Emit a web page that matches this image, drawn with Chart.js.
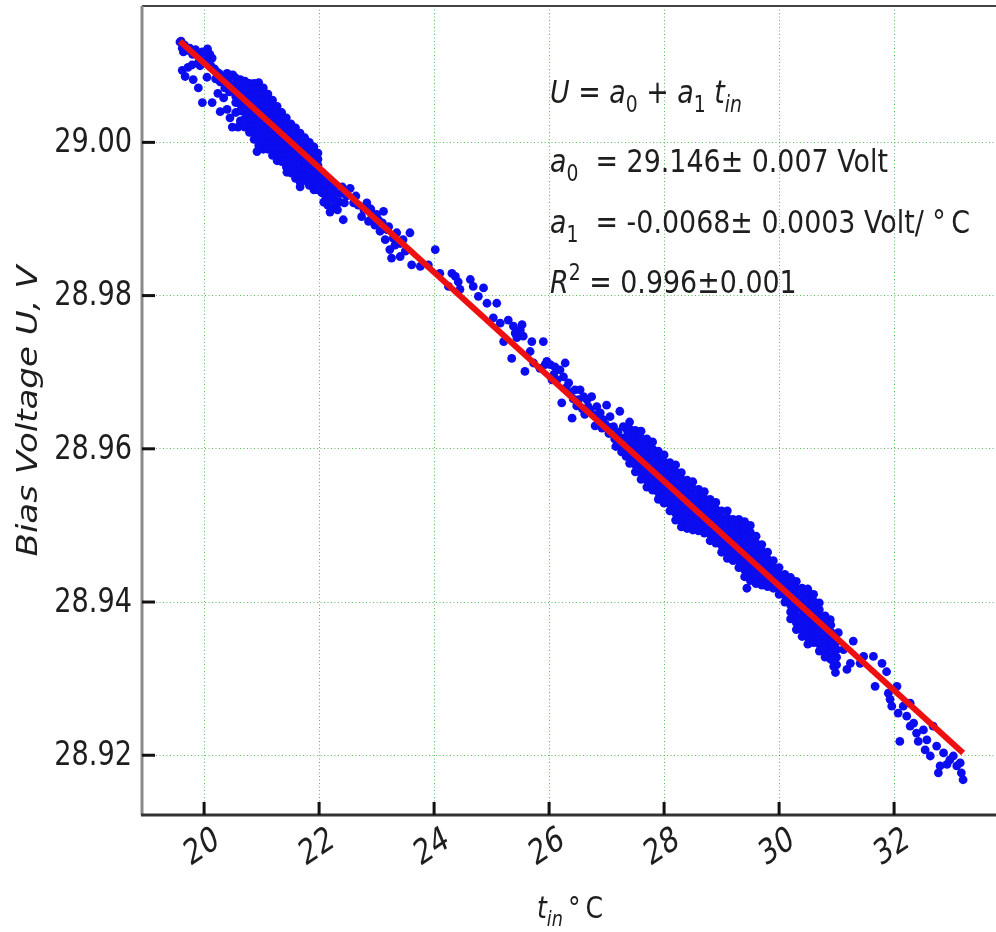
<!DOCTYPE html>
<html>
<head>
<meta charset="utf-8">
<title>Bias voltage vs temperature</title>
<script src="https://cdn.jsdelivr.net/npm/chart.js@4.4.0/dist/chart.umd.min.js"></script>
<style>
  html, body { margin: 0; padding: 0; background: #fff; overflow: hidden; }
  canvas { display: block; }
</style>
</head>
<body>
<canvas id="myChart" width="1000" height="932"></canvas>
<script>
// tick labels
const xTicks = [20, 22, 24, 26, 28, 30, 32];
const yTicks = [28.92, 28.94, 28.96, 28.98, 29.00];

// linear fit U = a0 + a1 t_in, drawn between the ends of the data
const fitT = [19.58, 33.20];
const fitU = [29.0132, 28.9203];

// isolated / edge measurements [t_in, U]
const loosePoints = [
  [19.58,29.0131],[19.60,29.0132],[19.62,29.0123],[19.66,29.0127],[19.70,29.0120],[19.64,29.0118],
  [19.75,29.0123],[19.80,29.0115],[19.85,29.0121],[19.92,29.0114],[19.97,29.0118],[19.90,29.0104],
  [19.62,29.0094],[19.67,29.0086],[19.72,29.0098],[19.79,29.0101],[19.81,29.0082],[19.90,29.0071],
  [19.97,29.0052],[19.93,29.0100],
  [20.02,29.0118],[20.06,29.0122],[20.10,29.0115],[20.14,29.0110],[20.04,29.0108],[20.08,29.0104],
  [20.12,29.0100],[20.18,29.0096],[20.22,29.0092],[20.26,29.0090],[20.30,29.0086],[20.20,29.0083],
  [20.28,29.0079],[20.34,29.0082],[20.38,29.0078],[20.42,29.0080],[20.46,29.0074],[20.36,29.0071],
  [20.44,29.0066],[20.48,29.0070],[20.14,29.0052],[20.28,29.0040],[20.40,29.0043],[20.45,29.0032],
  [20.49,29.0020],[20.59,29.0020],[20.34,29.0058],[20.24,29.0064],[20.05,29.0085],[20.45,29.0086],
  [20.50,29.0088],[20.40,29.0090],
  [20.92,28.9988],[21.44,28.9961],[21.67,28.9942],
  [22.05,28.9961],[22.05,28.9952],[22.05,28.9943],[22.05,28.9934],[22.12,28.9954],[22.12,28.9945],
  [22.12,28.9936],[22.12,28.9927],[22.20,28.9946],[22.20,28.9937],[22.20,28.9927],[22.28,28.9944],
  [22.28,28.9934],[22.28,28.9924],[22.36,28.9933],[22.36,28.9922],[22.44,28.9933],[22.44,28.9921],
  [22.19,28.9909],[22.42,28.9899],[22.25,28.9915],[22.32,28.9912],[22.08,28.9922],[22.15,28.9918],
  [22.40,28.9942],[22.48,28.9930],
  [22.54,28.9940],[22.60,28.9921],[22.68,28.9918],[22.74,28.9903],[22.83,28.9921],[22.86,28.9897],
  [22.92,28.9903],[22.97,28.9892],[23.03,28.9899],[23.06,28.9884],[23.12,28.9910],[23.15,28.9873],
  [23.18,28.9886],[23.21,28.9890],[23.23,28.9860],[23.26,28.9849],[23.29,28.9875],[23.35,28.9882],
  [23.41,28.9851],[23.41,28.9868],[23.58,28.9882],[22.64,28.9930],[22.78,28.9912],[22.90,28.9913],
  [23.00,28.9906],[23.10,28.9895],[23.32,28.9866],[23.46,28.9873],[23.50,28.9858],
  [23.61,28.9840],[23.76,28.9838],[23.90,28.9840],[24.02,28.9860],[24.10,28.9829],[24.31,28.9829],
  [24.37,28.9825],[24.25,28.9812],[24.42,28.9818],[24.45,28.9808],[24.63,28.9821],[24.68,28.9812],
  [24.86,28.9810],[24.77,28.9799],[24.92,28.9790],[25.09,28.9790],[25.03,28.9771],[25.15,28.9764],
  [25.29,28.9768],[25.38,28.9760],[25.41,28.9751],[25.50,28.9755],[25.53,28.9762],[25.55,28.9747],
  [25.44,28.9745],[25.21,28.9740],[25.35,28.9718],[25.58,28.9701],[25.70,28.9740],[25.67,28.9727],
  [25.73,28.9712],[25.90,28.9740],[25.84,28.9705],[25.93,28.9710],[25.96,28.9714],[26.02,28.9710],
  [26.05,28.9690],[26.10,28.9707],[26.19,28.9703],[26.28,28.9712],[26.25,28.9694],[26.34,28.9686],
  [26.22,28.9660],[26.37,28.9673],[26.40,28.9640],[26.45,28.9677],[26.54,28.9677],[26.60,28.9668],
  [26.51,28.9664],[26.66,28.9664],[26.71,28.9651],[26.74,28.9668],[26.83,28.9655],[26.89,28.9647],
  [26.94,28.9638],[27.00,28.9657],[27.06,28.9642],[27.12,28.9629],[27.23,28.9649],[27.18,28.9612],
  [27.29,28.9629],[27.35,28.9616],
  [26.08,28.9697],[26.14,28.9690],[26.30,28.9680],[26.42,28.9665],[26.48,28.9656],[26.58,28.9652],
  [26.62,28.9645],[26.68,28.9655],[26.78,28.9644],[26.80,28.9630],[26.86,28.9637],[26.92,28.9627],
  [26.98,28.9632],[27.04,28.9620],[27.08,28.9628],[27.14,28.9613],[27.20,28.9622],[27.24,28.9605],
  [27.28,28.9614],[27.32,28.9600],[27.36,28.9624],[27.34,28.9590],[27.26,28.9596],[27.16,28.9603],
  [29.44,28.9418],
  [30.89,28.9377],[31.03,28.9360],[31.12,28.9338],[30.95,28.9316],[30.98,28.9308],[31.18,28.9312],
  [31.24,28.9320],[31.29,28.9349],[31.47,28.9329],[31.41,28.9320],[31.64,28.9329],[31.67,28.9290],
  [31.79,28.9320],[31.87,28.9309],[31.90,28.9281],[31.93,28.9273],[31.96,28.9264],[32.05,28.9290],
  [32.07,28.9255],[32.10,28.9218],[32.16,28.9264],[32.22,28.9251],[32.28,28.9268],[32.28,28.9238],
  [32.34,28.9242],[32.39,28.9229],[32.42,28.9218],[32.51,28.9233],[32.57,28.9220],[32.54,28.9207],
  [32.63,28.9199],[32.68,28.9238],[32.74,28.9212],[32.80,28.9186],[32.86,28.9203],[32.92,28.9188],
  [32.97,28.9194],[33.03,28.9199],[33.09,28.9186],[33.15,28.9190],[33.17,28.9177],[33.20,28.9168],
  [32.77,28.9177]
];

// densely sampled stretches: [t_in, [U, U, ...]]
const denseColumns = [
  [20.55,[29.0084,29.0076,29.0068,29.0060,29.0052,29.0039]],
  [20.63,[29.0082,29.0074,29.0066,29.0058,29.0050,29.0041,29.0028]],
  [20.71,[29.0080,29.0072,29.0064,29.0056,29.0048,29.0040,29.0031,29.0020]],
  [20.79,[29.0077,29.0069,29.0061,29.0053,29.0045,29.0037,29.0029,29.0021,29.0013]],
  [20.87,[29.0077,29.0069,29.0061,29.0053,29.0045,29.0037,29.0029,29.0021,29.0013,29.0004]],
  [20.95,[29.0078,29.0070,29.0062,29.0054,29.0046,29.0038,29.0030,29.0022,29.0014,29.0006,28.9996]],
  [21.03,[29.0071,29.0063,29.0055,29.0047,29.0039,29.0031,29.0023,29.0015,29.0007,28.9999,28.9991]],
  [21.11,[29.0063,29.0055,29.0047,29.0039,29.0031,29.0023,29.0015,29.0007,28.9999,28.9991]],
  [21.19,[29.0055,29.0047,29.0039,29.0031,29.0023,29.0015,29.0007,28.9999,28.9991,28.9983]],
  [21.27,[29.0047,29.0039,29.0031,29.0023,29.0015,29.0007,28.9999,28.9991,28.9983,28.9976]],
  [21.35,[29.0039,29.0031,29.0023,29.0015,29.0007,28.9999,28.9991,28.9983,28.9975]],
  [21.43,[29.0032,29.0024,29.0016,29.0008,29.0000,28.9992,28.9984,28.9976,28.9968]],
  [21.51,[29.0024,29.0016,29.0008,29.0000,28.9992,28.9984,28.9976,28.9968,28.9960]],
  [21.59,[29.0019,29.0011,29.0003,28.9995,28.9987,28.9979,28.9971,28.9963,28.9953]],
  [21.67,[29.0012,29.0004,28.9996,28.9988,28.9980,28.9972,28.9964,28.9956,28.9948]],
  [21.75,[29.0006,28.9998,28.9990,28.9982,28.9974,28.9966,28.9958,28.9950]],
  [21.83,[29.0000,28.9992,28.9984,28.9976,28.9968,28.9960,28.9952,28.9944]],
  [21.91,[28.9994,28.9986,28.9978,28.9970,28.9962,28.9954,28.9946,28.9938]],
  [21.98,[28.9986,28.9978,28.9970,28.9962,28.9954,28.9946,28.9938]],
  [27.40,[28.9635,28.9626,28.9617,28.9608,28.9599,28.9590,28.9581]],
  [27.50,[28.9624,28.9615,28.9606,28.9597,28.9588,28.9579,28.9570]],
  [27.60,[28.9623,28.9614,28.9605,28.9596,28.9587,28.9578,28.9569,28.9560]],
  [27.70,[28.9613,28.9604,28.9595,28.9586,28.9577,28.9568,28.9559,28.9550]],
  [27.80,[28.9609,28.9600,28.9591,28.9582,28.9573,28.9564,28.9555,28.9546]],
  [27.90,[28.9597,28.9588,28.9579,28.9570,28.9561,28.9552,28.9543,28.9534]],
  [28.00,[28.9592,28.9583,28.9574,28.9565,28.9556,28.9547,28.9538,28.9529]],
  [28.10,[28.9582,28.9573,28.9564,28.9555,28.9546,28.9537,28.9528,28.9519]],
  [28.20,[28.9579,28.9570,28.9561,28.9552,28.9543,28.9534,28.9525,28.9516,28.9507]],
  [28.30,[28.9569,28.9560,28.9551,28.9542,28.9533,28.9524,28.9515,28.9506,28.9498]],
  [28.40,[28.9559,28.9550,28.9541,28.9532,28.9523,28.9514,28.9505,28.9496]],
  [28.50,[28.9557,28.9548,28.9539,28.9530,28.9521,28.9512,28.9503,28.9494]],
  [28.60,[28.9547,28.9538,28.9529,28.9520,28.9511,28.9502,28.9493]],
  [28.70,[28.9544,28.9535,28.9526,28.9517,28.9508,28.9499,28.9490]],
  [28.80,[28.9534,28.9525,28.9516,28.9507,28.9498,28.9489,28.9480]],
  [28.90,[28.9530,28.9521,28.9512,28.9503,28.9494,28.9485,28.9477]],
  [29.00,[28.9519,28.9510,28.9501,28.9492,28.9483,28.9474,28.9465]],
  [29.10,[28.9519,28.9510,28.9501,28.9492,28.9483,28.9474,28.9465,28.9457]],
  [29.20,[28.9508,28.9499,28.9490,28.9481,28.9472,28.9463,28.9454]],
  [29.30,[28.9508,28.9499,28.9490,28.9481,28.9472,28.9463,28.9454,28.9445]],
  [29.40,[28.9505,28.9496,28.9487,28.9478,28.9469,28.9460,28.9451,28.9442,28.9433]],
  [29.50,[28.9500,28.9491,28.9482,28.9473,28.9464,28.9455,28.9446,28.9437,28.9428]],
  [29.60,[28.9486,28.9477,28.9468,28.9459,28.9450,28.9441,28.9432,28.9424]],
  [29.70,[28.9475,28.9466,28.9457,28.9448,28.9439,28.9430,28.9422]],
  [29.80,[28.9465,28.9456,28.9447,28.9438,28.9429,28.9420]],
  [29.90,[28.9454,28.9445,28.9436,28.9427,28.9418]],
  [30.00,[28.9445,28.9436,28.9427,28.9418,28.9410]],
  [30.10,[28.9436,28.9427,28.9418,28.9409,28.9400]],
  [30.20,[28.9432,28.9423,28.9414,28.9405,28.9396,28.9387,28.9378]],
  [30.30,[28.9427,28.9418,28.9409,28.9400,28.9391,28.9382,28.9373,28.9364]],
  [30.40,[28.9418,28.9409,28.9400,28.9391,28.9382,28.9373,28.9364,28.9355]],
  [30.50,[28.9417,28.9408,28.9399,28.9390,28.9381,28.9372,28.9363,28.9354,28.9345]],
  [30.60,[28.9410,28.9401,28.9392,28.9383,28.9374,28.9365,28.9356,28.9347]],
  [30.70,[28.9399,28.9390,28.9381,28.9372,28.9363,28.9354,28.9345,28.9336]],
  [30.80,[28.9382,28.9373,28.9364,28.9355,28.9346,28.9337,28.9328]],
  [30.90,[28.9370,28.9361,28.9352,28.9343,28.9334,28.9325]],
  [31.00,[28.9348,28.9338,28.9328,28.9318]]
];

const measured = loosePoints.map(p => ({ x: p[0], y: p[1] }));
denseColumns.forEach(c => c[1].forEach(u => measured.push({ x: c[0], y: u })));
const fitLine = fitT.map((t, i) => ({ x: t, y: fitU[i] }));

const SX = 0.84;  // the figure is a little narrow horizontally
const INK = '#1e1e1e';

function setRunFont(ctx, st, size) {
  const small = st.indexOf('sub') >= 0 || st.indexOf('sup') >= 0;
  const italic = st.charAt(0) === 'i';
  ctx.font = (italic ? 'italic ' : '') + (small ? size * 0.7 : size) + 'px "DejaVu Sans"';
}
function runsWidth(ctx, runs, size) {
  let w = 0;
  runs.forEach(r => { setRunFont(ctx, r[1], size); w += ctx.measureText(r[0]).width; });
  return w;
}
function drawRuns(ctx, x, y, runs, size, center) {
  ctx.save();
  ctx.translate(x, y);
  ctx.scale(SX, 1);
  ctx.fillStyle = INK;
  ctx.textBaseline = 'alphabetic';
  ctx.textAlign = 'left';
  let cx = center ? -runsWidth(ctx, runs, size) / 2 : 0;
  runs.forEach(r => {
    setRunFont(ctx, r[1], size);
    let dy = 0;
    if (r[1].indexOf('sub') >= 0) dy = size * 0.27;
    if (r[1].indexOf('sup') >= 0) dy = -size * 0.42;
    ctx.fillText(r[0], cx, dy);
    cx += ctx.measureText(r[0]).width;
  });
  ctx.restore();
}

const decorations = {
  id: 'decorations',
  afterDraw(chart) {
    const ctx = chart.ctx;
    const a = chart.chartArea;
    const xs = chart.scales.x, ys = chart.scales.y;

    // frame
    ctx.save();
    ctx.lineWidth = 2;
    ctx.strokeStyle = '#444';
    ctx.beginPath(); ctx.moveTo(a.left, a.top); ctx.lineTo(a.right, a.top); ctx.stroke();
    ctx.lineWidth = 3;
    ctx.strokeStyle = '#8a8a8a';
    ctx.beginPath(); ctx.moveTo(a.left, a.top); ctx.lineTo(a.left, a.bottom); ctx.stroke();
    ctx.strokeStyle = '#333';
    ctx.beginPath(); ctx.moveTo(a.left - 1, a.bottom); ctx.lineTo(a.right, a.bottom); ctx.stroke();

    // inward tick marks
    ctx.strokeStyle = '#111';
    ctx.lineWidth = 3;
    xTicks.forEach(v => {
      const px = xs.getPixelForValue(v);
      ctx.beginPath(); ctx.moveTo(px, a.bottom); ctx.lineTo(px, a.bottom - 13); ctx.stroke();
    });
    yTicks.forEach(v => {
      const py = ys.getPixelForValue(v);
      ctx.beginPath(); ctx.moveTo(a.left, py); ctx.lineTo(a.left + 13, py); ctx.stroke();
    });
    ctx.restore();

    // tick labels
    ctx.save();
    ctx.fillStyle = INK;
    ctx.font = '34px "DejaVu Sans"';
    yTicks.forEach(v => {
      ctx.save();
      ctx.translate(a.left - 10, ys.getPixelForValue(v));
      ctx.scale(0.8, 1);
      ctx.textAlign = 'right';
      ctx.textBaseline = 'middle';
      ctx.fillText(v.toFixed(2), 0, 1);
      ctx.restore();
    });
    ctx.font = '35px "DejaVu Sans"';
    xTicks.forEach(v => {
      ctx.save();
      ctx.translate(xs.getPixelForValue(v) - 2, a.bottom + 33);
      ctx.scale(0.78, 1);
      ctx.rotate(-28 * Math.PI / 180);
      ctx.textAlign = 'center';
      ctx.textBaseline = 'middle';
      ctx.fillText(String(v), 0, 0);
      ctx.restore();
    });

    // axis titles
    ctx.save();
    ctx.translate(30, 411);
    ctx.scale(SX, 1);
    ctx.rotate(-Math.PI / 2);
    ctx.font = 'italic 34px "DejaVu Sans"';
    ctx.textAlign = 'center';
    ctx.textBaseline = 'middle';
    ctx.fillText('Bias Voltage U, V', 0, 0);
    ctx.restore();
    ctx.restore();

    drawRuns(ctx, 570, 918, [['t', 'i'], ['in', 'isub'], ['\u2009\u00b0\u2009C', '']], 30, true);

    // fit annotation
    const fs = 32;
    drawRuns(ctx, 550, 103, [['U', 'i'], [' = ', ''], ['a', 'i'], ['0', 'sub'], [' + ', ''],
      ['a', 'i'], ['1', 'sub'], [' ', ''], ['t', 'i'], ['in', 'isub']], fs);
    drawRuns(ctx, 550, 172, [['a', 'i'], ['0', 'sub'], ['  = 29.146\u00b1 0.007 Volt', '']], fs);
    drawRuns(ctx, 550, 233, [['a', 'i'], ['1', 'sub'], ['  = -0.0068\u00b1 0.0003 Volt/ \u00b0\u2009C', '']], fs);
    drawRuns(ctx, 550, 293, [['R', 'i'], ['2', 'sup'], [' = 0.996\u00b10.001', '']], fs);
  }
};

const gridStyle = { color: 'rgba(40,160,40,0.75)', lineWidth: 1, drawTicks: false };

new Chart(document.getElementById('myChart'), {
  type: 'scatter',
  data: {
    datasets: [
      {
        label: 'fit',
        data: fitLine,
        showLine: true,
        borderColor: 'rgb(238,16,16)',
        borderWidth: 6,
        pointRadius: 0,
        order: 0
      },
      {
        label: 'data',
        data: measured,
        pointRadius: 4.4,
        pointBorderWidth: 0,
        pointBackgroundColor: 'rgb(12,12,240)',
        order: 1
      }
    ]
  },
  options: {
    responsive: false,
    animation: false,
    events: [],
    layout: { padding: { top: 6, left: 0, right: 0, bottom: 0 }, autoPadding: false },
    plugins: { legend: { display: false }, tooltip: { enabled: false } },
    scales: {
      x: {
        type: 'linear', min: 18.92, max: 33.842,
        grid: gridStyle,
        border: { display: false, dash: [1, 2.5] },
        ticks: { display: false },
        afterBuildTicks: s => { s.ticks = xTicks.map(v => ({ value: v })); },
        afterFit: s => { s.height = 117; }
      },
      y: {
        type: 'linear', min: 28.9122, max: 29.0178,
        grid: gridStyle,
        border: { display: false, dash: [1, 2.5] },
        ticks: { display: false },
        afterBuildTicks: s => { s.ticks = yTicks.map(v => ({ value: v })); },
        afterFit: s => { s.width = 142; }
      }
    }
  },
  plugins: [decorations]
});
</script>
</body>
</html>
